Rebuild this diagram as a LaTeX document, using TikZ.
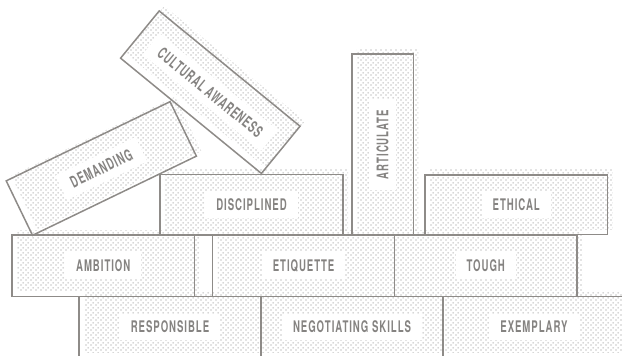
\documentclass[tikz,border=0pt]{standalone}
\usepackage{fontspec}
\setmainfont[FakeStretch=0.6,LetterSpace=6]{TeX Gyre Heros}
\usetikzlibrary{patterns}

\definecolor{edgegray}{HTML}{8E8B88}
\definecolor{dotgray}{HTML}{C9C9C9}
\definecolor{inkgray}{HTML}{858381}

% diagonal halftone: two dots per 5pt tile
\pgfdeclarepatternformonly{halftone}{\pgfqpoint{0pt}{0pt}}{\pgfqpoint{5pt}{5pt}}{\pgfqpoint{5pt}{5pt}}{%
  \pgfpathcircle{\pgfqpoint{1.25pt}{1.25pt}}{1.05pt}%
  \pgfpathcircle{\pgfqpoint{3.75pt}{3.75pt}}{1.05pt}%
  \pgfusepath{fill}}

\tikzset{
  shadowbox/.style={draw=none, pattern=halftone, pattern color=dotgray, inner sep=0pt, outer sep=0pt},
  brickbox/.style={draw=edgegray, line width=1.5pt, inner sep=0pt, outer sep=0pt},
  tag/.style={fill=white, text=inkgray, font=\fontsize{16}{16}\selectfont\bfseries,
    inner xsep=11pt, inner ysep=7.6pt, text height=11.7pt, text depth=0pt}
}

\begin{document}
\begin{tikzpicture}[x=1pt, y=-1pt]
  \useasboundingbox (0,0) rectangle (622,356);

  \def\bricks{
    disc/251.5/204.75/183/60.5/0/0/DISCIPLINED,
    ethi/516.25/204.5/182.5/59.5/0/0/ETHICAL,
    arti/382.6/144.5/61.3/181/0/90/ARTICULATE,
    ambi/103.25/265.75/182.5/61.5/0/0/AMBITION,
    etiq/303.6/265.75/181.8/61.5/0/0/ETIQUETTE,
    toug/485.75/265.75/182.5/61.5/0/0/TOUGH,
    resp/170/327/182/61/0/0/RESPONSIBLE,
    nego/352/327/182/61/0/0/NEGOTIATING SKILLS,
    exem/534/327/182/61/0/0/EXEMPLARY,
    cult/210.3/92.2/182/61/-39.3/-39.3/CULTURAL AWARENESS,
    dema/101.3/168.5/182/60.5/25.8/25.8/DEMANDING}

  % halftone fills, offset up and to the right
  \foreach \n/\x/\y/\w/\h/\a/\b/\t in \bricks {
    \node[shadowbox, minimum width=\w pt, minimum height=\h pt, rotate=\a]
      (\n-sh) at ({\x+5},{\y-5}) {};
  }

  % brick outlines
  \foreach \n/\x/\y/\w/\h/\a/\b/\t in \bricks {
    \node[brickbox, minimum width=\w pt, minimum height=\h pt, rotate=\a]
      (\n) at (\x,\y) {};
  }
  \node[brickbox, minimum width=18.2pt, minimum height=61.5pt] (gap) at (203.6,265.75) {};

  % labels
  \foreach \n/\x/\y/\w/\h/\a/\b/\t in \bricks {
    \node[tag, rotate=\b] (\n-lb) at (\n.center) {\t};
  }
\end{tikzpicture}
\end{document}
